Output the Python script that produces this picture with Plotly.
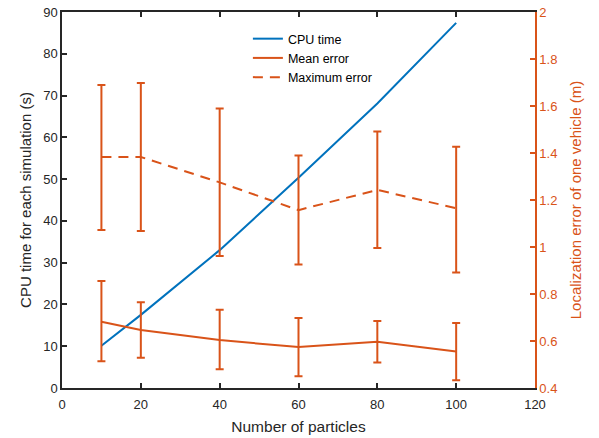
import plotly.graph_objects as go

particles = [10, 20, 40, 60, 80, 100]
cpu_time = [10.1, 17.5, 33.0, 50.3, 68.1, 87.4]
mean_err = [0.682, 0.647, 0.604, 0.574, 0.597, 0.555]
mean_err_hi = [0.855, 0.765, 0.733, 0.698, 0.685, 0.677]
mean_err_lo = [0.514, 0.529, 0.480, 0.450, 0.508, 0.433]
max_err = [1.383, 1.383, 1.275, 1.157, 1.243, 1.165]
max_err_hi = [1.689, 1.698, 1.589, 1.389, 1.491, 1.427]
max_err_lo = [1.072, 1.068, 0.962, 0.926, 0.996, 0.891]

BLUE = "#0072BD"
ORANGE = "#D95319"
DARK = "#262626"
FONT = "Liberation Sans, Arial, sans-serif"

fig = go.Figure()
fig.add_trace(go.Scatter(x=particles, y=cpu_time, mode="lines", name="CPU time",
                         line=dict(color=BLUE, width=2), yaxis="y"))
fig.add_trace(go.Scatter(
    x=particles, y=mean_err, mode="lines", name="Mean error",
    line=dict(color=ORANGE, width=2), yaxis="y2",
    error_y=dict(type="data", symmetric=False,
                 array=[h - m for h, m in zip(mean_err_hi, mean_err)],
                 arrayminus=[m - l for m, l in zip(mean_err, mean_err_lo)],
                 color=ORANGE, thickness=2, width=4)))
fig.add_trace(go.Scatter(
    x=particles, y=max_err, mode="lines", name="Maximum error",
    line=dict(color=ORANGE, width=2, dash="10px,7px"), yaxis="y2",
    error_y=dict(type="data", symmetric=False,
                 array=[h - m for h, m in zip(max_err_hi, max_err)],
                 arrayminus=[m - l for m, l in zip(max_err, max_err_lo)],
                 color=ORANGE, thickness=2, width=4)))

fig.update_layout(
    width=599, height=438,
    margin=dict(l=62, r=64, t=12, b=50),
    paper_bgcolor="white", plot_bgcolor="white",
    font=dict(family=FONT, size=13, color=DARK),
    showlegend=True,
    legend=dict(x=0.393, y=0.968, xanchor="left", yanchor="top",
                bgcolor="rgba(0,0,0,0)", font=dict(size=12.5, color="black"),
                tracegroupgap=0, itemwidth=30),
    xaxis=dict(range=[0, 120], tickvals=list(range(0, 121, 20)), automargin=False,
               showgrid=False, zeroline=False, showline=True, linecolor=DARK,
               linewidth=1.5, mirror="ticks", ticks="inside", ticklen=5,
               tickwidth=1.5, tickcolor=DARK, ticklabelstandoff=4,
               tickfont=dict(size=13, color=DARK),
               title=dict(text="Number of particles", font=dict(size=15.5, color=DARK), standoff=10)),
    yaxis=dict(range=[0, 90], tickvals=list(range(0, 91, 10)), automargin=False,
               showgrid=False, zeroline=False, showline=True, linecolor=DARK,
               linewidth=1.5, ticks="inside", ticklen=5, tickwidth=1.5, tickcolor=DARK,
               tickfont=dict(size=13, color=DARK),
               title=dict(text="CPU time for each simulation (s)", font=dict(size=15, color=DARK), standoff=8)),
    yaxis2=dict(range=[0.4, 2], tickvals=[0.4, 0.6, 0.8, 1, 1.2, 1.4, 1.6, 1.8, 2],
                ticktext=["0.4", "0.6", "0.8", "1", "1.2", "1.4", "1.6", "1.8", "2"],
                overlaying="y", side="right", anchor="x", automargin=False,
                showgrid=False, zeroline=False, showline=True, linecolor=ORANGE,
                linewidth=1.5, ticks="inside", ticklen=5, tickwidth=1.5, tickcolor=ORANGE,
                tickfont=dict(size=13, color=ORANGE),
                title=dict(text="Localization error of one vehicle (m)", font=dict(size=15, color=ORANGE), standoff=14)),
)

fig.write_html("out.html")
